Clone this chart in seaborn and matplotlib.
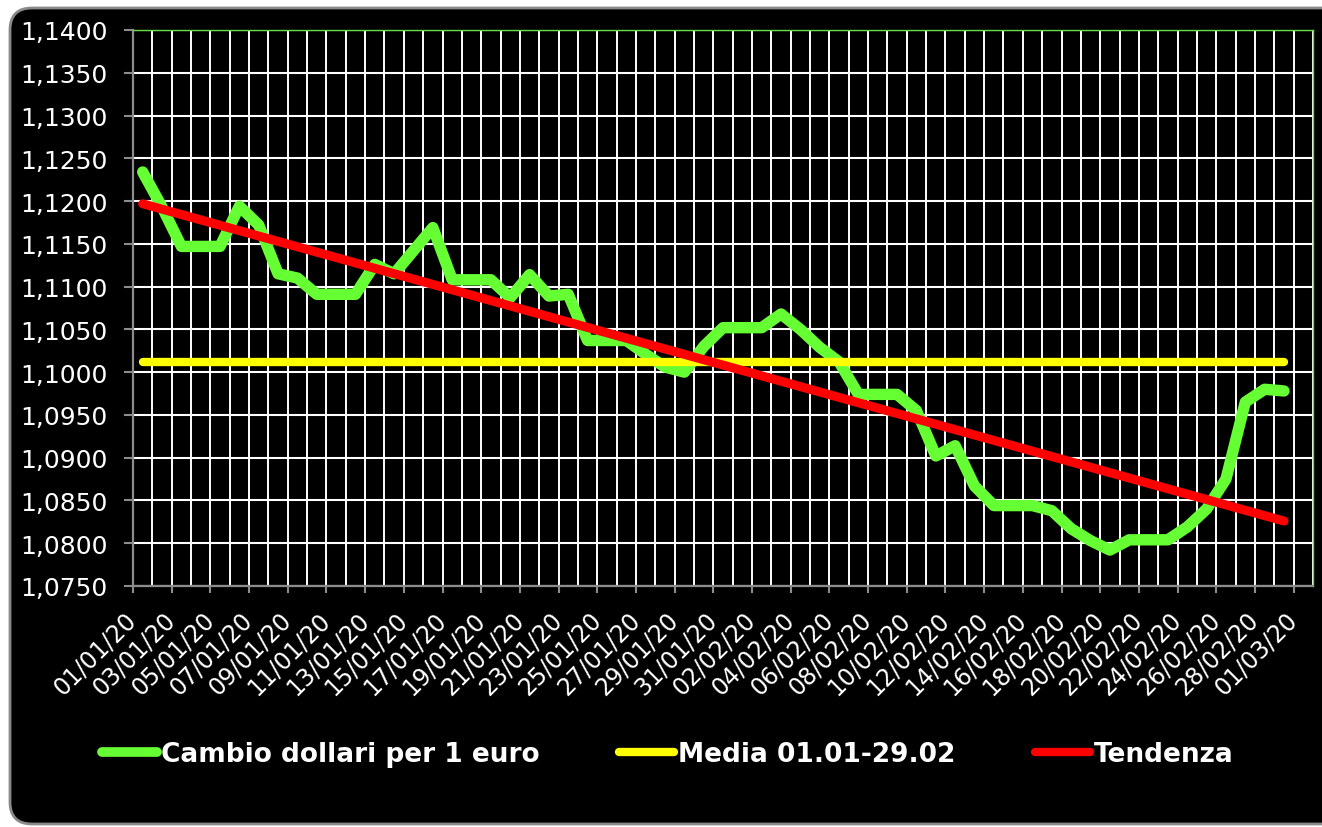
import numpy as np
import pandas as pd
import matplotlib
matplotlib.use("Agg")
import matplotlib.pyplot as plt
import matplotlib.transforms as mtransforms
from matplotlib.patches import FancyBboxPatch
from matplotlib.lines import Line2D
from matplotlib.ticker import FuncFormatter, FixedLocator
import seaborn as sns

# ---------------------------------------------------------
# Data: USD per 1 EUR, daily from 01/01/20 to 29/02/20
# ---------------------------------------------------------
DATES = pd.date_range("2020-01-01", "2020-02-29", freq="D")
CAMBIO = [
    1.1234, 1.1193, 1.1147, 1.1147, 1.1147, 1.1194, 1.1172, 1.1115, 1.1110, 1.1091,
    1.1091, 1.1091, 1.1126, 1.1115, 1.1142, 1.1169, 1.1108, 1.1108, 1.1108, 1.1087,
    1.1114, 1.1089, 1.1091, 1.1037, 1.1037, 1.1037, 1.1021, 1.1006, 1.1000, 1.1030,
    1.1052, 1.1052, 1.1052, 1.1068, 1.1050, 1.1029, 1.1012, 1.0974, 1.0974, 1.0974,
    1.0955, 1.0902, 1.0914, 1.0867, 1.0844, 1.0844, 1.0844, 1.0838, 1.0817, 1.0803,
    1.0792, 1.0804, 1.0804, 1.0804, 1.0819, 1.0840, 1.0875, 1.0965, 1.0980, 1.0978,
]
AXIS_DATES = pd.date_range("2020-01-01", "2020-03-01", freq="D")
TICK_LABELS = [d.strftime("%d/%m/%y") for d in AXIS_DATES[::2]]
Y_TICKS = np.arange(1.0750, 1.14001, 0.005)

LABELS = ["Cambio dollari per 1 euro", "Media 01.01-29.02", "Tendenza"]
COLORS = {"cambio": "#66FF33", "media": "#FFFF00", "trend": "#FF0000"}

# derived series
day = np.arange(len(CAMBIO))
media = np.full(len(CAMBIO), np.mean(CAMBIO))
slope, intercept = np.polyfit(day, CAMBIO, 1)
trend = intercept + slope * day

df = pd.DataFrame({"day": day, "cambio": CAMBIO, "media": media, "trend": trend})

# ---------------------------------------------------------
# Figure
# ---------------------------------------------------------
sns.set_theme(style="dark")
plt.rcParams["font.family"] = ["DejaVu Sans"]

fig = plt.figure(figsize=(13.22, 8.28), dpi=100, facecolor="white")

# black rounded chart area
bg = FancyBboxPatch((0.10, 0.03), 13.4, 8.16,
                    boxstyle="round,pad=0,rounding_size=0.22",
                    transform=fig.dpi_scale_trans, facecolor="black",
                    edgecolor="#8a8a8a", linewidth=2, zorder=-5)
fig.patches.append(bg)

ax = fig.add_axes([133 / 1322, 1 - 587 / 828, 1180 / 1322, 556 / 828])
ax.set_zorder(1)
ax.set_facecolor("black")

sns.lineplot(data=df, x="day", y="cambio", ax=ax, color=COLORS["cambio"],
             linewidth=8.2, solid_capstyle="round", solid_joinstyle="round", zorder=3)
sns.lineplot(data=df, x="day", y="media", ax=ax, color=COLORS["media"],
             linewidth=6, solid_capstyle="round", zorder=4)
sns.lineplot(data=df, x="day", y="trend", ax=ax, color=COLORS["trend"],
             linewidth=6.5, solid_capstyle="round", zorder=5)

ax.set_xlim(-0.5, len(AXIS_DATES) - 0.5)
ax.set_ylim(Y_TICKS[0], Y_TICKS[-1])
ax.set_xlabel("")
ax.set_ylabel("")

# x axis: ticks at category boundaries, labels at category centres
ax.xaxis.set_major_locator(FixedLocator(np.arange(-0.5, len(AXIS_DATES) - 1, 2)))
ax.xaxis.set_minor_locator(FixedLocator(np.arange(0.5, len(AXIS_DATES), 2)))
ax.set_xticklabels(TICK_LABELS, rotation=45, ha="right", va="center",
                   rotation_mode="anchor", fontsize=17, color="white")
shift = mtransforms.ScaledTranslation(1180 / len(AXIS_DATES) * 0.5 / 100, 0,
                                      fig.dpi_scale_trans)
for lab in ax.get_xticklabels():
    lab.set_transform(lab.get_transform() + shift)

ax.set_yticks(Y_TICKS)
ax.yaxis.set_major_formatter(FuncFormatter(lambda v, p: f"{v:.4f}".replace(".", ",")))
ax.tick_params(axis="y", labelsize=18, labelcolor="white", color="#8c8c8c",
               length=6.5, width=1.5, pad=12, left=True)
ax.tick_params(axis="x", which="major", color="#8c8c8c", length=5, width=1.5,
               pad=16, bottom=True)
ax.tick_params(axis="x", which="minor", length=0, bottom=False)

ax.grid(True, which="both", axis="x", color="white", linewidth=1.4)
ax.grid(True, which="major", axis="y", color="white", linewidth=1.5)
ax.set_axisbelow(True)

for side in ["left", "bottom"]:
    ax.spines[side].set_color("#8c8c8c")
    ax.spines[side].set_linewidth(1.6)
for side in ["top", "right"]:
    ax.spines[side].set_color("#66DD44")
    ax.spines[side].set_linewidth(1.0)

# legend
if ax.get_legend() is not None:
    ax.get_legend().remove()
handles = [
    Line2D([], [], color=COLORS["cambio"], linewidth=7, solid_capstyle="round"),
    Line2D([], [], color=COLORS["media"], linewidth=6, solid_capstyle="round"),
    Line2D([], [], color=COLORS["trend"], linewidth=6, solid_capstyle="round"),
]
leg = fig.legend(handles, LABELS, ncol=3, frameon=False, loc="center",
                 bbox_to_anchor=(0.505, 1 - 755 / 828),
                 prop={"size": 19, "weight": "bold"}, labelcolor="white",
                 handlelength=2.1, handletextpad=0.15, columnspacing=3.0)
leg.set_zorder(2)

fig.savefig("out.png", dpi=100, facecolor="white")
